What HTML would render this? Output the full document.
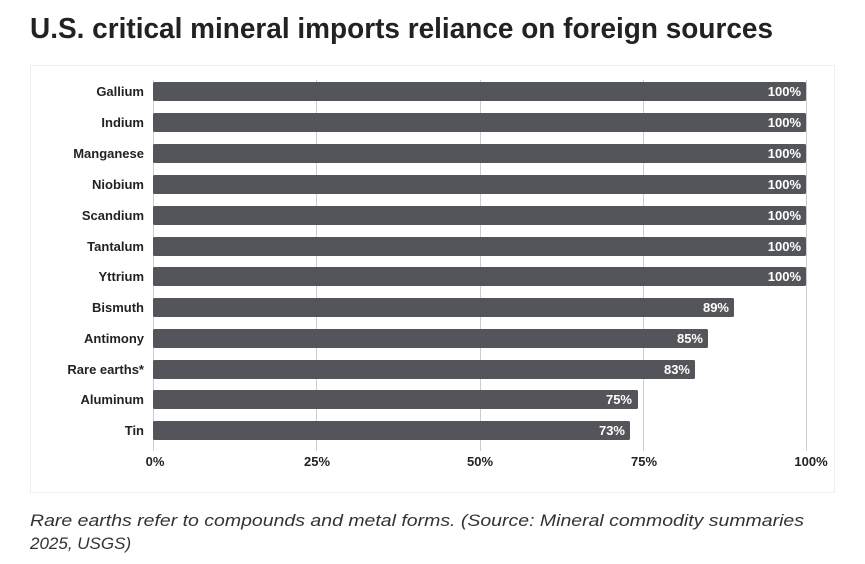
<!DOCTYPE html>
<html><head><style>
body{margin:0;width:865px;height:559px;background:#fff;overflow:hidden;font-family:"Liberation Sans",sans-serif}
</style></head><body>
<svg width="865" height="559" xmlns="http://www.w3.org/2000/svg" font-family="Liberation Sans, sans-serif">
<text x="30" y="38" font-size="29" font-weight="bold" fill="#222" textLength="743" lengthAdjust="spacingAndGlyphs">U.S. critical mineral imports reliance on foreign sources</text>
<rect x="30.5" y="65.5" width="804" height="427" fill="#fff" stroke="#eee"/>
<g stroke="#ccc" stroke-width="1">
<line x1="153.5" y1="80" x2="153.5" y2="451"/>
<line x1="316.5" y1="80" x2="316.5" y2="451"/>
<line x1="480.5" y1="80" x2="480.5" y2="451"/>
<line x1="643.5" y1="80" x2="643.5" y2="451"/>
<line x1="806.5" y1="80" x2="806.5" y2="451"/>
</g>
<g fill="#54555a">
<rect x="153" y="82" width="653" height="19" rx="1.5"/>
<rect x="153" y="113" width="653" height="19" rx="1.5"/>
<rect x="153" y="144" width="653" height="19" rx="1.5"/>
<rect x="153" y="175" width="653" height="19" rx="1.5"/>
<rect x="153" y="206" width="653" height="19" rx="1.5"/>
<rect x="153" y="237" width="653" height="19" rx="1.5"/>
<rect x="153" y="267" width="653" height="19" rx="1.5"/>
<rect x="153" y="298" width="581" height="19" rx="1.5"/>
<rect x="153" y="329" width="555" height="19" rx="1.5"/>
<rect x="153" y="360" width="542" height="19" rx="1.5"/>
<rect x="153" y="390" width="485" height="19" rx="1.5"/>
<rect x="153" y="421" width="477" height="19" rx="1.5"/>
</g>
<g font-size="13" font-weight="bold" fill="#222" text-anchor="end">
<text x="144" y="96">Gallium</text>
<text x="144" y="127">Indium</text>
<text x="144" y="158">Manganese</text>
<text x="144" y="189">Niobium</text>
<text x="144" y="220">Scandium</text>
<text x="144" y="251">Tantalum</text>
<text x="144" y="281">Yttrium</text>
<text x="144" y="312">Bismuth</text>
<text x="144" y="343">Antimony</text>
<text x="144" y="374">Rare earths*</text>
<text x="144" y="404">Aluminum</text>
<text x="144" y="435">Tin</text>
</g>
<g font-size="13" font-weight="bold" fill="#fff" text-anchor="end">
<text x="801" y="96">100%</text>
<text x="801" y="127">100%</text>
<text x="801" y="158">100%</text>
<text x="801" y="189">100%</text>
<text x="801" y="220">100%</text>
<text x="801" y="251">100%</text>
<text x="801" y="281">100%</text>
<text x="729" y="312">89%</text>
<text x="703" y="343">85%</text>
<text x="690" y="374">83%</text>
<text x="632" y="404">75%</text>
<text x="625" y="435">73%</text>
</g>
<g font-size="13" font-weight="bold" fill="#222" text-anchor="middle">
<text x="155" y="466">0%</text>
<text x="317" y="466">25%</text>
<text x="480" y="466">50%</text>
<text x="644" y="466">75%</text>
<text x="811" y="466">100%</text>
</g>
<g font-size="17" font-style="italic" fill="#333">
<text x="30" y="526" textLength="774" lengthAdjust="spacingAndGlyphs">Rare earths refer to compounds and metal forms. (Source: Mineral commodity summaries</text>
<text x="30" y="549">2025, USGS)</text>
</g>
</svg>
</body></html>
